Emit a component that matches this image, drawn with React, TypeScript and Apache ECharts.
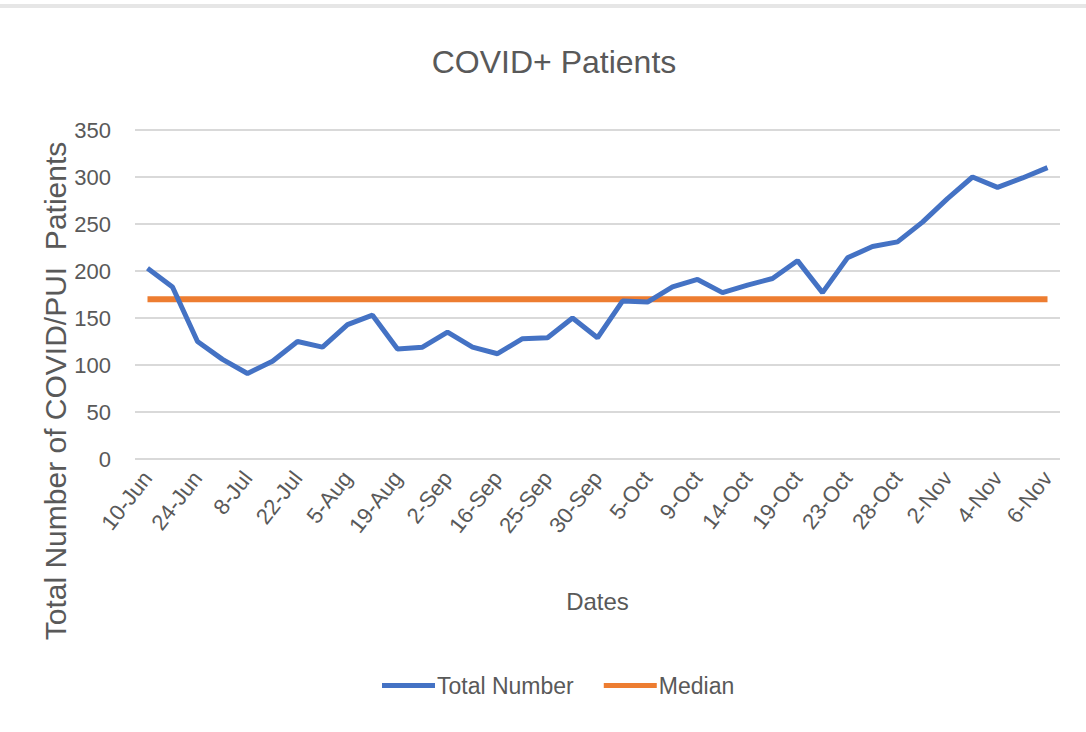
import React, { useEffect, useRef } from "react";
import * as echarts from "echarts";

const dates = [
  "10-Jun", "17-Jun", "24-Jun", "1-Jul", "8-Jul", "15-Jul", "22-Jul", "29-Jul",
  "5-Aug", "12-Aug", "19-Aug", "26-Aug", "2-Sep", "9-Sep", "16-Sep", "21-Sep",
  "25-Sep", "28-Sep", "30-Sep", "2-Oct", "5-Oct", "7-Oct", "9-Oct", "12-Oct",
  "14-Oct", "16-Oct", "19-Oct", "21-Oct", "23-Oct", "26-Oct", "28-Oct", "31-Oct",
  "2-Nov", "3-Nov", "4-Nov", "5-Nov", "6-Nov",
];

const totalNumber = [
  203, 183, 125, 106, 91, 104, 125, 119, 143, 153, 117, 119, 135, 119, 112, 128,
  129, 150, 129, 168, 167, 183, 191, 177, 185, 192, 211, 177, 214, 226, 231, 252,
  277, 300, 289, 299, 310,
];

const MEDIAN = 170;

const yTicks = [0, 50, 100, 150, 200, 250, 300, 350];

const FONT = "'Liberation Sans', sans-serif";
const TEXT = "#595959";

export default function App() {
  const ref = useRef<HTMLDivElement>(null);
  useEffect(() => {
    if (!ref.current) return;
    const chart = echarts.init(ref.current, null, { renderer: "svg" });
    const medianValues = dates.map(() => MEDIAN);
    chart.setOption({
      animation: false,
      backgroundColor: "#ffffff",
      title: {
        text: "COVID+ Patients",
        left: 549,
        textAlign: "center",
        top: 41,
        textStyle: { fontFamily: FONT, fontSize: 32, fontWeight: "normal", color: TEXT },
      },
      legend: {
        left: 377,
        top: 669,
        icon: "rect",
        itemWidth: 53,
        itemHeight: 5,
        itemGap: 30,
        textStyle: { fontFamily: FONT, fontSize: 23, color: TEXT, padding: [0, 0, 0, -3] },
        data: ["Total Number", "Median"],
      },
      grid: { left: 135, top: 130, width: 925, height: 329, containLabel: false },
      xAxis: {
        type: "category",
        data: dates,
        boundaryGap: true,
        axisLine: { show: false },
        axisTick: { show: false },
        axisLabel: {
          interval: 1,
          rotate: 52,
          margin: 15,
          fontFamily: FONT,
          fontSize: 22,
          color: TEXT,
        },
        name: "Dates",
        nameLocation: "middle",
        nameGap: 130,
        nameTextStyle: { fontFamily: FONT, fontSize: 24, color: TEXT },
      },
      yAxis: {
        type: "value",
        min: yTicks[0],
        max: yTicks[yTicks.length - 1],
        interval: 50,
        axisLine: { show: false },
        axisTick: { show: false },
        splitLine: { lineStyle: { color: "#d9d9d9", width: 2 } },
        axisLabel: { fontFamily: FONT, fontSize: 22, color: TEXT, margin: 24 },
      },
      graphic: [
        {
          type: "text",
          x: 55,
          y: 391,
          rotation: Math.PI / 2,
          style: {
            text: "Total Number of COVID/PUI  Patients",
            fontFamily: FONT,
            fontSize: 30,
            fill: TEXT,
            textAlign: "center",
            textVerticalAlign: "middle",
          },
        },
        {
          type: "rect",
          shape: { x: 0, y: 4, width: 1086, height: 4 },
          style: { fill: "#e6e6e6" },
        },
      ],
      series: [
        {
          name: "Total Number",
          type: "line",
          data: totalNumber,
          symbol: "none",
          lineStyle: { color: "#4472c4", width: 5 },
          itemStyle: { color: "#4472c4" },
          z: 3,
        },
        {
          name: "Median",
          type: "line",
          data: medianValues,
          symbol: "none",
          lineStyle: { color: "#ed7d31", width: 6 },
          itemStyle: { color: "#ed7d31" },
          z: 2,
        },
      ],
    });
    return () => chart.dispose();
  }, []);
  return (
    <div
      ref={ref}
      style={{ position: "fixed", left: 0, top: 0, width: 1086, height: 732 }}
    />
  );
}
